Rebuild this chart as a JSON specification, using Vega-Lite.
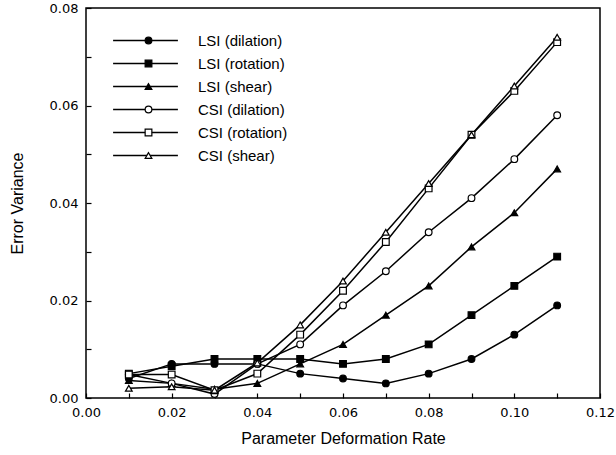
{
  "$schema": "https://vega.github.io/schema/vega-lite/v6.json",
  "width": 514,
  "height": 390,
  "autosize": {"type": "none"},
  "padding": {"left": 86, "top": 8, "right": 16, "bottom": 57},
  "background": "white",
  "config": {
    "font": "Liberation Sans",
    "view": {"stroke": "black", "strokeWidth": 1.5},
    "axis": {
      "grid": false,
      "domain": false,
      "tickColor": "black",
      "tickSize": -5,
      "tickWidth": 1.2,
      "labelColor": "black",
      "labelFont": "DejaVu Sans",
      "labelFontSize": 13,
      "titleFont": "Liberation Sans",
      "titleFontSize": 16,
      "titleFontWeight": "normal",
      "titleColor": "black"
    },
    "legend": {
      "labelFont": "Liberation Sans",
      "labelFontSize": 15,
      "labelColor": "black"
    }
  },
  "data": {
    "values": [
      {"x": 0.01, "y": 0.004, "curve": "LSI (dilation)", "series": "LSI (dilation)"},
      {"x": 0.02, "y": 0.007, "curve": "LSI (dilation)", "series": "LSI (dilation)"},
      {"x": 0.03, "y": 0.007, "curve": "LSI (dilation)", "series": "LSI (dilation)"},
      {"x": 0.04, "y": 0.007, "curve": "LSI (dilation)", "series": "LSI (dilation)"},
      {"x": 0.05, "y": 0.005, "curve": "LSI (dilation)", "series": "LSI (dilation)"},
      {"x": 0.06, "y": 0.004, "curve": "LSI (dilation)", "series": "LSI (dilation)"},
      {"x": 0.07, "y": 0.003, "curve": "LSI (dilation)", "series": "LSI (dilation)"},
      {"x": 0.08, "y": 0.005, "curve": "LSI (dilation)", "series": "LSI (dilation)"},
      {"x": 0.09, "y": 0.008, "curve": "LSI (dilation)", "series": "LSI (dilation)"},
      {"x": 0.10, "y": 0.013, "curve": "LSI (dilation)", "series": "LSI (dilation)"},
      {"x": 0.11, "y": 0.019, "curve": "LSI (dilation)", "series": "LSI (dilation)"},

      {"x": 0.01, "y": 0.005, "curve": "LSI (rotation)", "series": "LSI (rotation)"},
      {"x": 0.02, "y": 0.0065, "curve": "LSI (rotation)", "series": "LSI (rotation)"},
      {"x": 0.03, "y": 0.008, "curve": "LSI (rotation)", "series": "LSI (rotation)"},
      {"x": 0.04, "y": 0.008, "curve": "LSI (rotation)", "series": "LSI (rotation)"},
      {"x": 0.05, "y": 0.008, "curve": "LSI (rotation)", "series": "LSI (rotation)"},
      {"x": 0.06, "y": 0.007, "curve": "LSI (rotation)", "series": "LSI (rotation)"},
      {"x": 0.07, "y": 0.008, "curve": "LSI (rotation)", "series": "LSI (rotation)"},
      {"x": 0.08, "y": 0.011, "curve": "LSI (rotation)", "series": "LSI (rotation)"},
      {"x": 0.09, "y": 0.017, "curve": "LSI (rotation)", "series": "LSI (rotation)"},
      {"x": 0.10, "y": 0.023, "curve": "LSI (rotation)", "series": "LSI (rotation)"},
      {"x": 0.11, "y": 0.029, "curve": "LSI (rotation)", "series": "LSI (rotation)"},

      {"x": 0.01, "y": 0.0036, "curve": "LSI (shear)", "series": "LSI (shear)"},
      {"x": 0.02, "y": 0.003, "curve": "LSI (shear)", "series": "LSI (shear)"},
      {"x": 0.03, "y": 0.0018, "curve": "LSI (shear)", "series": "LSI (shear)"},
      {"x": 0.04, "y": 0.003, "curve": "LSI (shear)", "series": "LSI (shear)"},
      {"x": 0.05, "y": 0.007, "curve": "LSI (shear)", "series": "LSI (shear)"},
      {"x": 0.06, "y": 0.011, "curve": "LSI (shear)", "series": "LSI (shear)"},
      {"x": 0.07, "y": 0.017, "curve": "LSI (shear)", "series": "LSI (shear)"},
      {"x": 0.08, "y": 0.023, "curve": "LSI (shear)", "series": "LSI (shear)"},
      {"x": 0.09, "y": 0.031, "curve": "LSI (shear)", "series": "LSI (shear)"},
      {"x": 0.10, "y": 0.038, "curve": "LSI (shear)", "series": "LSI (shear)"},
      {"x": 0.11, "y": 0.047, "curve": "LSI (shear)", "series": "LSI (shear)"},

      {"x": 0.01, "y": 0.0048, "curve": "CSI (dilation)", "series": "CSI (dilation)"},
      {"x": 0.02, "y": 0.003, "curve": "CSI (dilation)", "series": "CSI (dilation)"},
      {"x": 0.03, "y": 0.0008, "curve": "CSI (dilation)", "series": "CSI (dilation)"},
      {"x": 0.04, "y": 0.007, "curve": "CSI (dilation)", "series": "CSI (dilation)"},
      {"x": 0.05, "y": 0.011, "curve": "CSI (dilation)", "series": "CSI (dilation)"},
      {"x": 0.06, "y": 0.019, "curve": "CSI (dilation)", "series": "CSI (dilation)"},
      {"x": 0.07, "y": 0.026, "curve": "CSI (dilation)", "series": "CSI (dilation)"},
      {"x": 0.08, "y": 0.034, "curve": "CSI (dilation)", "series": "CSI (dilation)"},
      {"x": 0.09, "y": 0.041, "curve": "CSI (dilation)", "series": "CSI (dilation)"},
      {"x": 0.10, "y": 0.049, "curve": "CSI (dilation)", "series": "CSI (dilation)"},
      {"x": 0.11, "y": 0.058, "curve": "CSI (dilation)", "series": "CSI (dilation)"},

      {"x": 0.01, "y": 0.0048, "curve": "CSI (rotation)", "series": "CSI (rotation)"},
      {"x": 0.02, "y": 0.0048, "curve": "CSI (rotation)", "series": "CSI (rotation)"},
      {"x": 0.03, "y": 0.0016, "curve": "CSI (rotation)", "series": "CSI (rotation)"},
      {"x": 0.04, "y": 0.005, "curve": "CSI (rotation)", "series": "CSI (rotation)"},
      {"x": 0.05, "y": 0.013, "curve": "CSI (rotation)", "series": "CSI (rotation)"},
      {"x": 0.06, "y": 0.022, "curve": "CSI (rotation)", "series": "CSI (rotation)"},
      {"x": 0.07, "y": 0.032, "curve": "CSI (rotation)", "series": "CSI (rotation)"},
      {"x": 0.08, "y": 0.043, "curve": "CSI (rotation)", "series": "CSI (rotation)"},
      {"x": 0.09, "y": 0.054, "curve": "CSI (rotation)", "series": "CSI (rotation)"},
      {"x": 0.10, "y": 0.063, "curve": "CSI (rotation)", "series": "CSI (rotation)"},
      {"x": 0.11, "y": 0.073, "curve": "CSI (rotation)", "series": "CSI (rotation)"},

      {"x": 0.01, "y": 0.002, "curve": "CSI (shear)", "series": "CSI (shear)"},
      {"x": 0.02, "y": 0.0023, "curve": "CSI (shear)", "series": "CSI (shear)"},
      {"x": 0.03, "y": 0.0016, "curve": "CSI (shear)", "series": "CSI (shear)"},
      {"x": 0.04, "y": 0.0072, "curve": "CSI (shear)", "series": "CSI (shear)"},
      {"x": 0.05, "y": 0.015, "curve": "CSI (shear)", "series": "CSI (shear)"},
      {"x": 0.06, "y": 0.024, "curve": "CSI (shear)", "series": "CSI (shear)"},
      {"x": 0.07, "y": 0.034, "curve": "CSI (shear)", "series": "CSI (shear)"},
      {"x": 0.08, "y": 0.044, "curve": "CSI (shear)", "series": "CSI (shear)"},
      {"x": 0.09, "y": 0.054, "curve": "CSI (shear)", "series": "CSI (shear)"},
      {"x": 0.10, "y": 0.064, "curve": "CSI (shear)", "series": "CSI (shear)"},
      {"x": 0.11, "y": 0.074, "curve": "CSI (shear)", "series": "CSI (shear)"}
    ]
  },
  "encoding": {
    "x": {
      "field": "x",
      "type": "quantitative",
      "scale": {"domain": [0, 0.12], "nice": false, "zero": false},
      "axis": {
        "title": "Parameter Deformation Rate",
        "values": [0, 0.01, 0.02, 0.03, 0.04, 0.05, 0.06, 0.07, 0.08, 0.09, 0.1, 0.11, 0.12],
        "labelExpr": "round(datum.value * 100) % 2 == 0 ? format(datum.value, '.2f') : ''",
        "labelPadding": 13,
        "titlePadding": 11,
        "labelFlush": false,
        "labelOverlap": false
      }
    },
    "y": {
      "field": "y",
      "type": "quantitative",
      "scale": {"domain": [0, 0.08], "nice": false},
      "axis": {
        "title": "Error Variance",
        "values": [0, 0.01, 0.02, 0.03, 0.04, 0.05, 0.06, 0.07, 0.08],
        "labelExpr": "round(datum.value * 100) % 2 == 0 ? format(datum.value, '.2f') : ''",
        "labelPadding": 13,
        "titlePadding": 24,
        "labelFlush": false,
        "labelOverlap": false
      }
    }
  },
  "layer": [
    {
      "mark": {"type": "line", "strokeWidth": 1.5},
      "encoding": {
        "color": {
          "field": "curve",
          "type": "nominal",
          "sort": ["LSI (dilation)", "LSI (rotation)", "LSI (shear)", "CSI (dilation)", "CSI (rotation)", "CSI (shear)"],
          "scale": {
            "range": ["black", "black", "black", "black", "black", "black"]
          },
          "legend": {
            "title": null,
            "orient": "none",
            "legendX": 26,
            "legendY": 21,
            "symbolType": "stroke",
            "symbolSize": 4200,
            "symbolStrokeWidth": 1.5,
            "symbolStrokeColor": "black",
            "clipHeight": 23,
            "rowPadding": 0,
            "labelOffset": 19
          }
        }
      }
    },
    {
      "mark": {"type": "point", "filled": false, "stroke": "black", "strokeWidth": 1.2, "size": 45, "opacity": 1},
      "encoding": {
        "shape": {
          "field": "series",
          "type": "nominal",
          "sort": ["LSI (dilation)", "LSI (rotation)", "LSI (shear)", "CSI (dilation)", "CSI (rotation)", "CSI (shear)"],
          "scale": {
            "range": ["circle", "square", "triangle-up", "circle", "square", "triangle-up"]
          },
          "legend": {
            "title": null,
            "orient": "none",
            "legendX": 55,
            "legendY": 21,
            "clipHeight": 23,
            "rowPadding": 0,
            "labelExpr": "''",
            "symbolStrokeColor": "black",
            "symbolStrokeWidth": 1.2,
            "symbolSize": 45,
            "symbolOpacity": 1,
            "symbolFillColor": {"expr": "indexof(datum.value, 'CSI') == 0 ? 'white' : 'black'"}
          }
        },
        "fill": {
          "field": "series",
          "type": "nominal",
          "sort": ["LSI (dilation)", "LSI (rotation)", "LSI (shear)", "CSI (dilation)", "CSI (rotation)", "CSI (shear)"],
          "scale": {
            "range": ["black", "black", "black", "white", "white", "white"]
          },
          "legend": null
        }
      }
    }
  ]
}
